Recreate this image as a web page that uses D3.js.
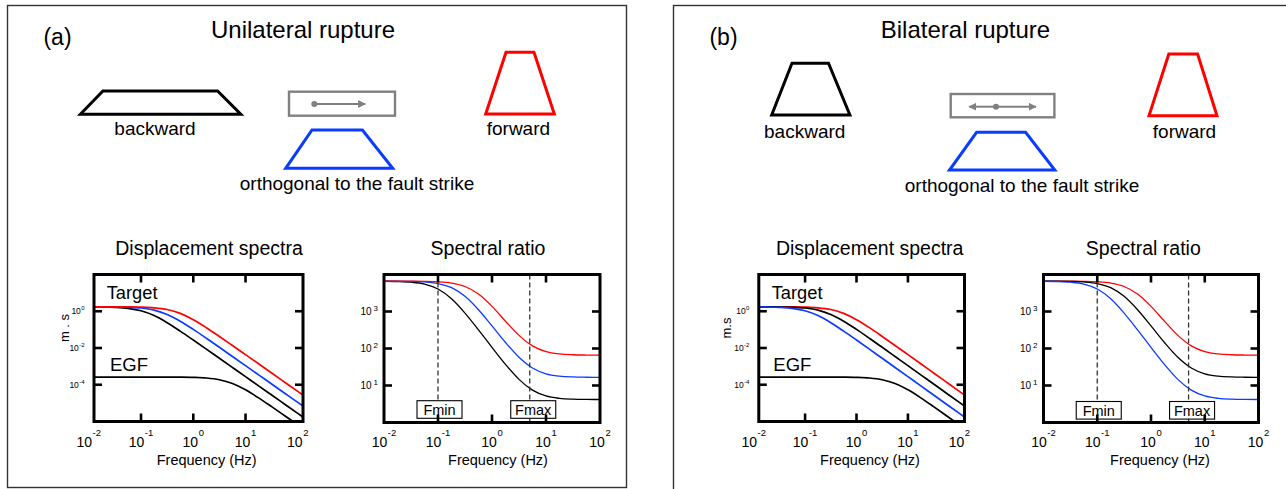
<!DOCTYPE html>
<html><head><meta charset="utf-8">
<script src="https://cdn.jsdelivr.net/npm/d3@7"></script>
<style>
body{margin:0;background:#fff}
svg{display:block}
text{font-family:"Liberation Sans",Arial,Helvetica,sans-serif;fill:#000}
</style></head>
<body><svg id="c" width="1286" height="489"></svg>
<script>
// ---------------- DATA ----------------
const freqHz = [0.01, 0.0178, 0.0316, 0.0562, 0.1, 0.178, 0.316, 0.562, 1, 1.78, 3.16, 5.62, 10, 17.8, 31.6, 56.2, 100, 126];

// displacement spectra (m.s)
const dispTargetHighCorner = [1.737, 1.736, 1.731, 1.717, 1.671, 1.543, 1.243, 0.769, 0.349, 0.1279, 0.04258, 0.0137, 0.004355, 0.001379, 4.363e-4, 1.380e-4, 4.365e-5, 2.754e-5];
const dispTargetMidCorner  = [1.735, 1.729, 1.711, 1.655, 1.500, 1.158, 0.6722, 0.2891, 0.1031, 0.0340, 0.0109, 0.00346, 0.001096, 3.467e-4, 1.096e-4, 3.467e-5, 1.096e-5, 6.918e-6];
const dispTargetLowCorner  = [1.727, 1.704, 1.635, 1.449, 1.065, 0.5802, 0.2377, 0.08294, 0.02712, 0.008665, 0.00275, 8.706e-4, 2.754e-4, 8.71e-5, 2.754e-5, 8.71e-6, 2.754e-6, 1.738e-6];
const dispEGF              = [2.630e-4, 2.630e-4, 2.630e-4, 2.629e-4, 2.629e-4, 2.627e-4, 2.620e-4, 2.598e-4, 2.529e-4, 2.336e-4, 1.881e-4, 1.165e-4, 5.280e-5, 1.935e-5, 6.446e-6, 2.073e-6, 6.591e-7, 4.162e-7];

// spectral ratios target / EGF
const ratioHighCorner = [6604, 6599, 6581, 6527, 6357, 5875, 4745, 2961, 1379, 547.4, 226.3, 117.6, 82.45, 71.27, 67.70, 66.59, 66.24, 66.18];
const ratioMidCorner  = [6596, 6573, 6504, 6294, 5706, 4407, 2566, 1113, 407.8, 145.5, 57.92, 29.72, 20.75, 17.91, 17.01, 16.73, 16.64, 16.62];
const ratioLowCorner  = [6566, 6477, 6214, 5509, 4052, 2209, 907.4, 319.3, 107.2, 37.09, 14.62, 7.477, 5.214, 4.500, 4.274, 4.202, 4.179, 4.175];

const freqTickExponents = [-2, -1, 0, 1, 2];
const freqInnerTickExponents = [-1, 0, 1];
const dispTickExponents = [0, -2, -4];
const ratioTickExponents = [1, 2, 3];
const fminHz = 0.1;
const fmaxHz = 5;

const panelLetters = ["(a)", "(b)"];
const panelTitles = ["Unilateral rupture", "Bilateral rupture"];
const stationLabels = ["backward", "orthogonal to the fault strike", "forward"];
const subplotTitles = ["Displacement spectra", "Spectral ratio"];
const xAxisTitle = "Frequency (Hz)";
const yAxisTitle = ["m . s", "m.s"];
const curveLabels = ["Target", "EGF"];
const bandLabels = ["Fmin", "Fmax"];

// ---------------- STYLE / LAYOUT ----------------
const RED = "#ff0000", BLUE = "#0a3cff", BLACK = "#000", GRAY = "#808080";

const DISP_Y0 = 274.5, DISP_Y1 = 421.5;
const RATIO_Y0 = 274.5, RATIO_Y1 = 422.5;

const panels = [
  {
    border: {x: 7.5, y: 5.5, w: 619, h: 482},
    letter: {x: 57.5, y: 45}, title: {x: 303, y: 38},
    disp: {x0: 94, x1: 303, titleX: 209, freqX: 206.7, yLabX: 64, targetX: 106.7, egfX: 110},
    ratio: {x0: 384, x1: 600, titleX: 488, freqX: 498},
    dispSeries: [[dispEGF, BLACK], [dispTargetLowCorner, BLACK], [dispTargetMidCorner, BLUE], [dispTargetHighCorner, RED]],
    ratioSeries: [[ratioLowCorner, BLACK], [ratioMidCorner, BLUE], [ratioHighCorner, RED]],
    shapes: [
      {color: BLACK, top: [102.9, 217.6], bot: [80.4, 240.8], y: [91, 114.3]},
      {color: BLUE, top: [312, 362.4], bot: [285.7, 392.7], y: [130, 168.3]},
      {color: RED, top: [506, 534], bot: [485.7, 554.3], y: [52.3, 114]}
    ],
    labels: [{x: 155, y: 135}, {x: 357, y: 190}, {x: 518.4, y: 135}],
    box: {x: 289, y: 91.7, w: 106, h: 24},
    arrow: {y: 104, dot: 314.3, right: 365.3, left: null},
    boxY: 400.7, yLabelText: 0
  },
  {
    border: {x: 673.5, y: 5.5, w: 640, h: 490},
    letter: {x: 723.5, y: 45}, title: {x: 965.5, y: 38},
    disp: {x0: 758.8, x1: 964.5, titleX: 869.7, freqX: 870, yLabX: 726.5, targetX: 771.7, egfX: 773.3},
    ratio: {x0: 1043.5, x1: 1258.5, titleX: 1143.3, freqX: 1160},
    dispSeries: [[dispEGF, BLACK], [dispTargetHighCorner, RED], [dispTargetMidCorner, BLACK], [dispTargetLowCorner, BLUE]],
    ratioSeries: [[ratioHighCorner, RED], [ratioMidCorner, BLACK], [ratioLowCorner, BLUE]],
    shapes: [
      {color: BLACK, top: [792, 828.5], bot: [771.7, 849.9], y: [63.3, 115]},
      {color: BLUE, top: [976.6, 1025.6], bot: [949.5, 1054.8], y: [132.3, 170]},
      {color: RED, top: [1168.8, 1197.6], bot: [1149, 1217], y: [54, 115.7]}
    ],
    labels: [{x: 804.7, y: 137.5}, {x: 1022, y: 191.5}, {x: 1184.5, y: 137.5}],
    box: {x: 950.7, y: 94, w: 103.7, h: 23.3},
    arrow: {y: 106.7, dot: 996, right: 1035.9, left: 969.2},
    boxY: 401.5, yLabelText: 1
  }
];

const svg = d3.select("#c");
const defs = svg.append("defs");
defs.append("marker").attr("id", "ah").attr("viewBox", "0 0 10 10").attr("refX", 9).attr("refY", 5)
  .attr("markerWidth", 4).attr("markerHeight", 4).attr("orient", "auto-start-reverse")
  .append("path").attr("d", "M0,0 L10,5 L0,10 Z").attr("fill", GRAY);

function sup(g, x, y, exp, size, supSize, dy, dx, anchor) {
  const t = g.append("text").attr("x", x).attr("y", y).attr("text-anchor", anchor).attr("font-size", size);
  t.append("tspan").text("10");
  t.append("tspan").attr("font-size", supSize).attr("dy", dy).attr("dx", dx).text(exp);
}

function frame(g, x0, x1, y0, y1, xs, ys) {
  const tl = 8;
  const tk = g.append("g").attr("stroke", "#000").attr("stroke-width", 2.6);
  xs.forEach(x => {
    tk.append("line").attr("x1", x).attr("x2", x).attr("y1", y0).attr("y2", y0 + tl);
    tk.append("line").attr("x1", x).attr("x2", x).attr("y1", y1).attr("y2", y1 - tl);
  });
  ys.forEach(y => {
    tk.append("line").attr("x1", x0).attr("x2", x0 + tl).attr("y1", y).attr("y2", y);
    tk.append("line").attr("x1", x1).attr("x2", x1 - tl).attr("y1", y).attr("y2", y);
  });
  g.append("rect").attr("x", x0).attr("y", y0).attr("width", x1 - x0).attr("height", y1 - y0)
    .attr("fill", "none").attr("stroke", "#000").attr("stroke-width", 3);
}

panels.forEach((p, pi) => {
  const g = svg.append("g");
  g.append("rect").attr("x", p.border.x).attr("y", p.border.y).attr("width", p.border.w).attr("height", p.border.h)
    .attr("fill", "none").attr("stroke", "#333").attr("stroke-width", 1.4);

  g.append("text").attr("x", p.letter.x).attr("y", p.letter.y).attr("text-anchor", "middle").attr("font-size", 23).text(panelLetters[pi]);
  g.append("text").attr("x", p.title.x).attr("y", p.title.y).attr("text-anchor", "middle").attr("font-size", 24).text(panelTitles[pi]);

  // schematic radiation shapes
  const tline = d3.line();
  p.shapes.forEach(s => {
    g.append("path").attr("d", tline([[s.top[0], s.y[0]], [s.top[1], s.y[0]], [s.bot[1], s.y[1]], [s.bot[0], s.y[1]]]) + "Z")
      .attr("fill", "none").attr("stroke", s.color).attr("stroke-width", 3).attr("stroke-linejoin", "miter");
  });
  p.labels.forEach((l, i) => {
    g.append("text").attr("x", l.x).attr("y", l.y).attr("text-anchor", "middle").attr("font-size", 19).text(stationLabels[i]);
  });
  g.append("rect").attr("x", p.box.x).attr("y", p.box.y).attr("width", p.box.w).attr("height", p.box.h)
    .attr("fill", "none").attr("stroke", GRAY).attr("stroke-width", 2.4);
  g.append("line").attr("x1", p.arrow.dot).attr("x2", p.arrow.right).attr("y1", p.arrow.y).attr("y2", p.arrow.y)
    .attr("stroke", GRAY).attr("stroke-width", 2).attr("marker-end", "url(#ah)");
  if (p.arrow.left !== null) {
    g.append("line").attr("x1", p.arrow.dot).attr("x2", p.arrow.left).attr("y1", p.arrow.y).attr("y2", p.arrow.y)
      .attr("stroke", GRAY).attr("stroke-width", 2).attr("marker-end", "url(#ah)");
  }
  g.append("circle").attr("cx", p.arrow.dot).attr("cy", p.arrow.y).attr("r", 3).attr("fill", GRAY);

  // ---------- displacement spectra ----------
  const d = p.disp;
  const xD = d3.scaleLog().domain([Math.pow(10, -1.9), Math.pow(10, 2.1)]).range([d.x0, d.x1]);
  const yD = d3.scaleLog().domain([1e-6, 1e2]).range([DISP_Y1, DISP_Y0]);
  const cidD = "clipD" + pi;
  defs.append("clipPath").attr("id", cidD).append("rect").attr("x", d.x0).attr("y", DISP_Y0).attr("width", d.x1 - d.x0).attr("height", DISP_Y1 - DISP_Y0);
  const lineD = d3.line().x((v, i) => xD(freqHz[i])).y(v => yD(v)).curve(d3.curveMonotoneX);
  const gD = g.append("g").attr("clip-path", `url(#${cidD})`);
  p.dispSeries.forEach(([arr, col]) => {
    gD.append("path").attr("d", lineD(arr)).attr("fill", "none").attr("stroke", col).attr("stroke-width", 1.7);
  });
  frame(g, d.x0, d.x1, DISP_Y0, DISP_Y1,
    freqInnerTickExponents.map(e => xD(Math.pow(10, e))),
    dispTickExponents.map(e => yD(Math.pow(10, e))));
  freqTickExponents.forEach(e => sup(g, xD(Math.pow(10, e)), 447, String(e), 14, 9.5, -11, 0.5, "middle"));
  dispTickExponents.forEach(e => sup(g, d.x0 - 9.5, yD(Math.pow(10, e)) + 3, String(e), 8.5, 6, -4, 0.3, "end"));
  g.append("text").attr("x", d.titleX).attr("y", 255).attr("text-anchor", "middle").attr("font-size", 19.5).text(subplotTitles[0]);
  g.append("text").attr("x", d.freqX).attr("y", 465).attr("text-anchor", "middle").attr("font-size", 14.5).text(xAxisTitle);
  g.append("text").attr("transform", `translate(${d.yLabX},328) rotate(-90)`).attr("text-anchor", "middle")
    .attr("dy", "0.35em").attr("font-size", 13).text(yAxisTitle[p.yLabelText]);
  g.append("text").attr("x", d.targetX).attr("y", 298.5).attr("font-size", 18.3).text(curveLabels[0]);
  g.append("text").attr("x", d.egfX).attr("y", 370.5).attr("font-size", 18.5).text(curveLabels[1]);

  // ---------- spectral ratio ----------
  const r = p.ratio;
  const xR = d3.scaleLog().domain([0.01, 100]).range([r.x0, r.x1]);
  const yR = d3.scaleLog().domain([1, 1e4]).range([RATIO_Y1, RATIO_Y0]);
  const cidR = "clipR" + pi;
  defs.append("clipPath").attr("id", cidR).append("rect").attr("x", r.x0).attr("y", RATIO_Y0).attr("width", r.x1 - r.x0).attr("height", RATIO_Y1 - RATIO_Y0);
  const lineR = d3.line().x((v, i) => xR(freqHz[i])).y(v => yR(v)).curve(d3.curveMonotoneX);
  const gR = g.append("g").attr("clip-path", `url(#${cidR})`);
  p.ratioSeries.forEach(([arr, col]) => {
    gR.append("path").attr("d", lineR(arr)).attr("fill", "none").attr("stroke", col).attr("stroke-width", 1.3);
  });
  [fminHz, fmaxHz].forEach((f, i) => {
    const x = xR(f);
    g.append("line").attr("x1", x).attr("x2", x).attr("y1", RATIO_Y0).attr("y2", RATIO_Y1)
      .attr("stroke", "#333").attr("stroke-width", 1.3).attr("stroke-dasharray", "5,3");
  });
  [fminHz, fmaxHz].forEach((f, i) => {
    const x = xR(f) + (i === 1 ? 3.5 : 1.5);
    g.append("rect").attr("x", x - 22.5).attr("y", p.boxY).attr("width", 45).attr("height", 17.6)
      .attr("fill", "#fff").attr("stroke", "#000").attr("stroke-width", 1.1);
    g.append("text").attr("x", x).attr("y", p.boxY + 14).attr("text-anchor", "middle").attr("font-size", 14.5).text(bandLabels[i]);
  });
  frame(g, r.x0, r.x1, RATIO_Y0, RATIO_Y1,
    freqInnerTickExponents.map(e => xR(Math.pow(10, e))),
    ratioTickExponents.map(e => yR(Math.pow(10, e))));
  freqTickExponents.forEach(e => sup(g, xR(Math.pow(10, e)), 447, String(e), 14, 9.5, -11, 0.5, "middle"));
  ratioTickExponents.forEach(e => sup(g, r.x0 - 6, yR(Math.pow(10, e)) + 3.5, String(e), 10, 8, -4, 2, "end"));
  g.append("text").attr("x", r.titleX).attr("y", 255).attr("text-anchor", "middle").attr("font-size", 19.5).text(subplotTitles[1]);
  g.append("text").attr("x", r.freqX).attr("y", 465).attr("text-anchor", "middle").attr("font-size", 14.5).text(xAxisTitle);
});
</script>
</body></html>
